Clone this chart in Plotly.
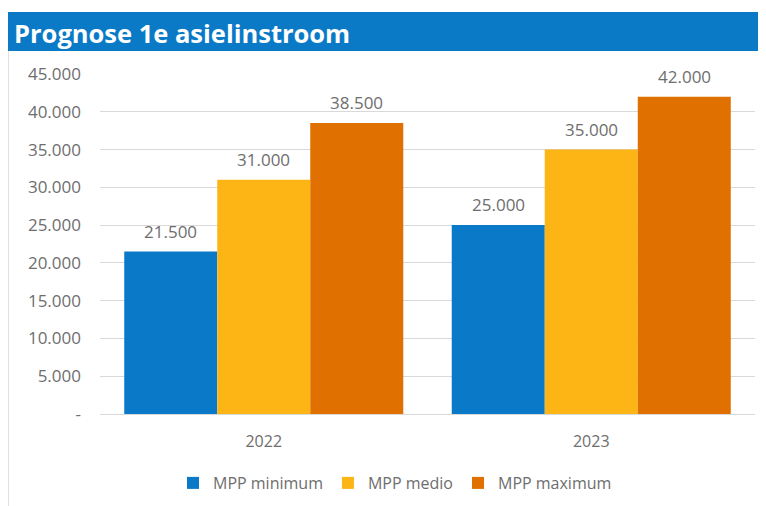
import plotly.graph_objects as go

years = ["2022", "2023"]
series_names = ["MPP minimum", "MPP medio", "MPP maximum"]
mpp_minimum = [21500, 25000]
mpp_medio = [31000, 35000]
mpp_maximum = [38500, 42000]
tick_values = [0, 5000, 10000, 15000, 20000, 25000, 30000, 35000, 40000, 45000]
tick_labels = ["-", "5.000", "10.000", "15.000", "20.000", "25.000", "30.000", "35.000", "40.000", "45.000"]

colors = ["#0A79C8", "#FDB515", "#E07000"]
GRAY = "#6E6E6E"
FONT = "Open Sans"
W, H = 758, 498
L, R, T, B = 92, 11, 66, 92
pw, ph = W - L - R, H - T - B
BARW = 93  # px width of one bar

def fmt(v):
    return f"{v:,}".replace(",", ".")

def px_x(x):
    return (x - L) / pw

def px_y(y):
    return (H - B - y) / ph

fig = go.Figure()
annotations = []
all_series = [mpp_minimum, mpp_medio, mpp_maximum]
for i, (name, vals, c) in enumerate(zip(series_names, all_series, colors)):
    fig.add_trace(go.Bar(
        x=years, y=vals, name=name, marker=dict(color=c, line=dict(width=0)),
    ))
    for j, v in enumerate(vals):
        annotations.append(dict(
            x=j, y=v, xref="x", yref="y", text=fmt(v), showarrow=False,
            xanchor="center", yanchor="bottom", xshift=(i - 1) * BARW, yshift=7,
            font=dict(family=FONT, size=17, color=GRAY),
        ))

annotations.append(dict(
    text="<b>Prognose 1e asielinstroom</b>", xref="paper", yref="paper",
    x=px_x(4), y=px_y(25), xanchor="left", yanchor="middle", showarrow=False,
    font=dict(family=FONT, size=25.5, color="white"),
))

fig.update_layout(
    width=W, height=H,
    margin=dict(l=L, r=R, t=T, b=B, autoexpand=False),
    paper_bgcolor="white", plot_bgcolor="white",
    barmode="group", bargap=0.148, bargroupgap=0,
    font=dict(family=FONT, color=GRAY, size=16),
    showlegend=True,
    legend=dict(orientation="h", x=px_x(387), xanchor="center", y=px_y(475), yanchor="middle",
                font=dict(size=16, color=GRAY), traceorder="normal"),
    xaxis=dict(type="category", range=[-0.5, 1.5], showgrid=False, showline=True,
               linecolor="#D9D9D9", linewidth=1,
               ticks="", tickfont=dict(size=16, color=GRAY), ticklabelstandoff=13),
    yaxis=dict(range=[0, 45000], tickvals=tick_values, ticktext=tick_labels,
               showgrid=True, gridcolor="#D9D9D9", gridwidth=1, zeroline=False,
               tickfont=dict(size=17, color=GRAY), ticklabelstandoff=18),
    shapes=[
        dict(type="rect", xref="paper", yref="paper", x0=px_x(0), x1=px_x(W), y0=px_y(43), y1=px_y(4),
             fillcolor="#0A7AC6", line=dict(width=0), layer="above"),
        dict(type="line", xref="paper", yref="paper", x0=px_x(0.5), x1=px_x(0.5), y0=px_y(43), y1=px_y(H),
             line=dict(color="#E0E0E0", width=1)),
    ],
    annotations=annotations,
)
fig.write_html("out.html")
